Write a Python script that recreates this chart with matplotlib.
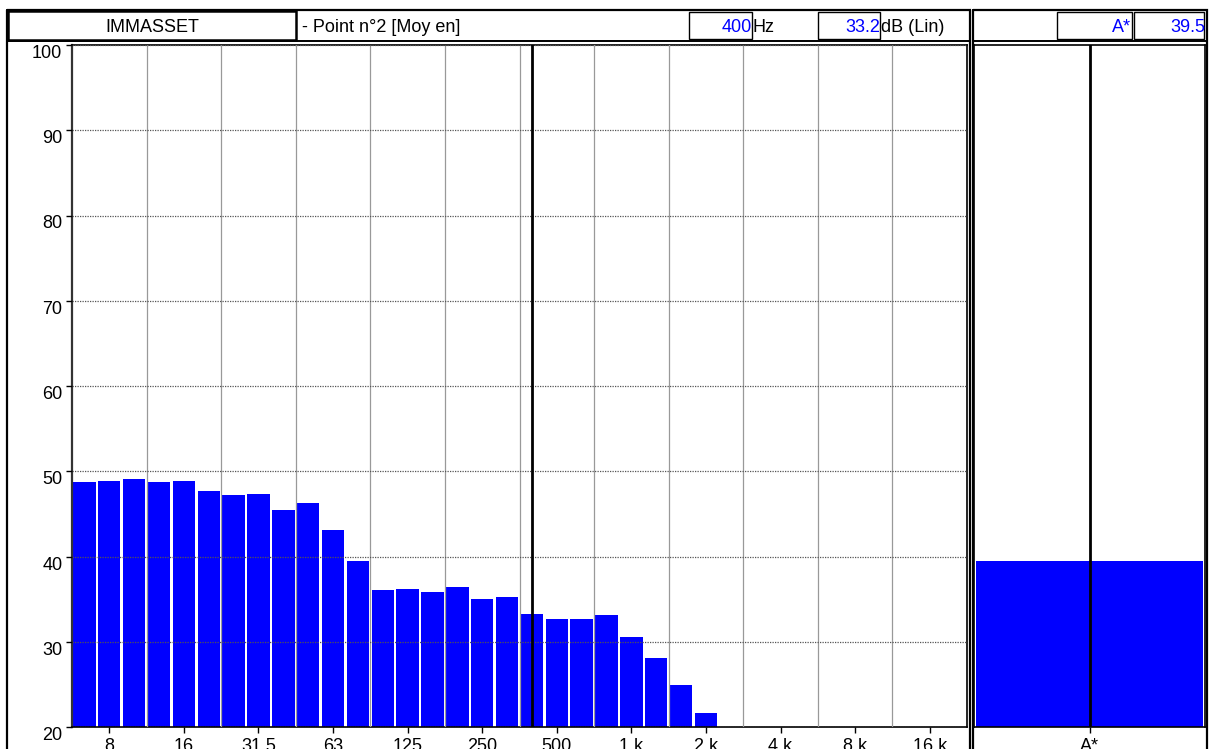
import numpy as np
import matplotlib
matplotlib.use('Agg')
import matplotlib.pyplot as plt
from matplotlib.patches import Rectangle

plt.rcParams['font.family'] = ['Liberation Sans', 'DejaVu Sans']

W, H = 1214, 749

# third-octave band centres (Hz), 6.3 Hz .. 20 kHz
bands = [6.3, 8, 10, 12.5, 16, 20, 25, 31.5, 40, 50, 63, 80, 100, 125, 160, 200,
         250, 315, 400, 500, 630, 800, 1000, 1250, 1600, 2000, 2500, 3150, 4000,
         5000, 6300, 8000, 10000, 12500, 16000, 20000]
# measured levels dB (Lin), bands above 2 kHz below range
levels = [48.7, 48.8, 49.1, 48.7, 48.8, 47.7, 47.2, 47.3, 45.5, 46.3, 43.1, 39.5,
          36.1, 36.2, 35.8, 36.4, 35.0, 35.2, 33.2, 32.7, 32.7, 33.1, 30.5, 28.1,
          24.9, 21.7]
tick_freqs = [8, 16, 31.5, 63, 125, 250, 500, 1000, 2000, 4000, 8000, 16000]
tick_labels = ['8', '16', '31.5', '63', '125', '250', '500', '1 k', '2 k', '4 k', '8 k', '16 k']
cursor_freq = 400
cursor_level = 33.2
global_label = 'A*'
global_level = 39.5
y_ticks = [20, 30, 40, 50, 60, 70, 80, 90, 100]

BLUE = '#0000ff'


def px(x0, y0, x1, y1):
    return [x0 / W, 1 - y1 / H, (x1 - x0) / W, (y1 - y0) / H]


fig = plt.figure(figsize=(W / 100, H / 100), dpi=100)

# main spectrum
ax = fig.add_axes(px(72, 45, 967, 727))
x = np.arange(len(levels))
ax.bar(x, np.array(levels) - 20, bottom=20, width=0.9, color=BLUE, zorder=1)
ax.set_xlim(-0.5, len(bands) - 0.5)
ax.set_ylim(20, 100)
ax.set_yticks(y_ticks)
ax.set_xticks([bands.index(f) for f in tick_freqs])
ax.set_xticklabels(tick_labels)
ax.set_xticks(np.arange(2.5, len(bands) - 1, 3), minor=True)
ax.tick_params(axis='both', which='major', length=4, width=1, labelsize=13, pad=3)
ax.tick_params(axis='x', which='minor', length=0)
ax.tick_params(axis='x', which='major', pad=4)
for lbl in ax.get_yticklabels():
    lbl.set_va('top')
ax.grid(axis='y', which='major', color='#555555', linestyle=(0, (1, 1)), linewidth=0.9, zorder=2)
ax.grid(axis='x', which='minor', color='#999999', linewidth=0.9, zorder=2)
ax.set_axisbelow(False)
ax.axvline(bands.index(cursor_freq), color='black', linewidth=2, zorder=3)
for s in ax.spines.values():
    s.set_linewidth(1.2)
ax.spines['left'].set_color('#333333')
ax.spines['left'].set_linewidth(1.6)

# global level panel
ax2 = fig.add_axes(px(974, 45, 1205, 727))
ax2.bar([0], [global_level - 20], bottom=20, width=0.98, color=BLUE, zorder=1)
ax2.set_xlim(-0.5, 0.5)
ax2.set_ylim(20, 100)
ax2.set_yticks([])
ax2.set_xticks([0])
ax2.set_xticklabels([global_label])
ax2.tick_params(axis='x', length=4, width=1, labelsize=13, pad=4)
ax2.axvline(0, color='black', linewidth=2, zorder=3)
for s in ax2.spines.values():
    s.set_linewidth(1.2)

# frames and header
ov = fig.add_axes([0, 0, 1, 1], zorder=5)
ov.set_xlim(0, W)
ov.set_ylim(H, 0)
ov.axis('off')
ov.patch.set_alpha(0)


def box(x0, y0, x1, y1, lw=1.0):
    ov.add_patch(Rectangle((x0, y0), x1 - x0, y1 - y0, fill=False, edgecolor='black',
                           linewidth=lw, clip_on=False))


box(7, 10, 969.5, 770, lw=1.6)
box(7, 10, 969.5, 41, lw=1.4)
box(8, 11, 296, 40, lw=1.8)
box(689, 12, 752, 39)
box(818, 12, 880, 39)
box(972.5, 10, 1207, 770, lw=1.6)
box(972.5, 10, 1207, 41, lw=1.4)
box(1057, 12, 1132, 39)
box(1134, 12, 1204, 39)

ty = 27
fs = 13
ov.text(152, ty, 'IMMASSET', ha='center', va='center', fontsize=fs)
ov.text(302, ty, '- Point n°2 [Moy en]', ha='left', va='center', fontsize=fs)
ov.text(752, ty, f'{cursor_freq}', ha='right', va='center', fontsize=fs, color=BLUE)
ov.text(753, ty, 'Hz', ha='left', va='center', fontsize=fs)
ov.text(880, ty, f'{cursor_level}', ha='right', va='center', fontsize=fs, color=BLUE)
ov.text(881, ty, 'dB (Lin)', ha='left', va='center', fontsize=fs)
ov.text(1131, ty, global_label, ha='right', va='center', fontsize=fs, color=BLUE)
ov.text(1205, ty, f'{global_level}', ha='right', va='center', fontsize=fs, color=BLUE)

fig.savefig('out.png', dpi=100)
